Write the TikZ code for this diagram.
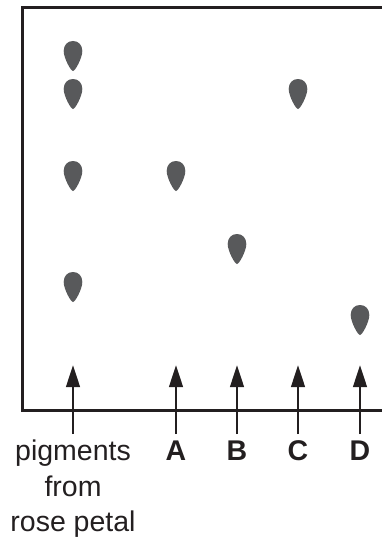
\documentclass[tikz,border=0pt]{standalone}
\usepackage{fontspec}
\setmainfont{Liberation Sans}
\usetikzlibrary{arrows.meta}
\definecolor{spotgray}{HTML}{58595B}
\definecolor{ink}{HTML}{231F20}
\tikzset{
  frameline/.style={draw=ink, line width=3pt},
  uparrow/.style={draw=ink, line width=2.7pt, -{Triangle[length=22pt,width=13.5pt]}},
  lab/.style={anchor=base, inner sep=0pt, font=\fontsize{28.5}{39}\selectfont, text=ink},
  boldlab/.style={lab, font=\fontsize{28.5}{39}\selectfont\bfseries},
  spot/.pic={\fill[spotgray] (0,0) .. controls (5.5,0) and (9.3,4) .. (9.3,10)
      .. controls (9.3,17) and (2.2,30) .. (0,30)
      .. controls (-2.2,30) and (-9.3,17) .. (-9.3,10)
      .. controls (-9.3,4) and (-5.5,0) .. (0,0) -- cycle;}
}
\begin{document}
\begin{tikzpicture}[x=1pt,y=-1pt]
\useasboundingbox (0,0) rectangle (382,543);
% frame
\draw[frameline] (382,8) -- (22,8) -- (22,410) -- (382,410);
% spots
\pic at (73,41) {spot};
\pic at (73,79) {spot};
\pic at (73,161) {spot};
\pic at (73,272) {spot};
\pic at (176,161) {spot};
\pic at (237,234) {spot};
\pic at (298,79) {spot};
\pic at (360,305) {spot};
% arrows
\foreach \n/\x in {p/73,a/176,b/237,c/298,d/360}{
  \coordinate (base\n) at (\x,434);
  \coordinate (tip\n) at (\x,365);
  \draw[uparrow] (base\n) -- (tip\n);
}
% labels
\node[lab] (l1) at (73,460) {pigments};
\node[lab] (l2) at (73,496) {from};
\node[lab] (l3) at (73,531) {rose petal};
\node[boldlab] (la) at (176,460) {A};
\node[boldlab] (lb) at (237,460) {B};
\node[boldlab] (lc) at (298,460) {C};
\node[boldlab] (ld) at (360,460) {D};
\end{tikzpicture}
\end{document}
